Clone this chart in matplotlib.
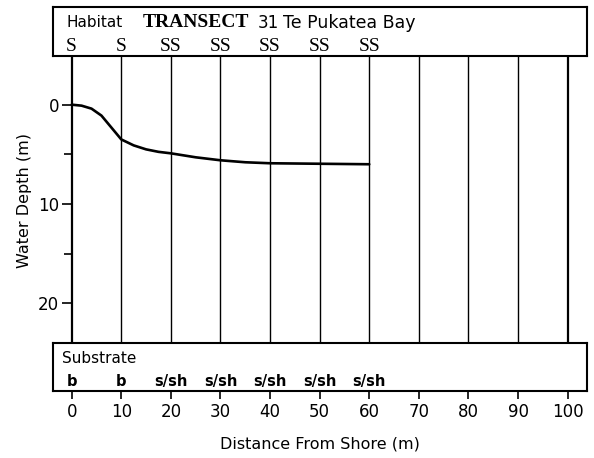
import matplotlib.pyplot as plt
from matplotlib.ticker import MultipleLocator

# transect stations (m from shore) and their habitat / substrate codes
stations = [0, 10, 20, 30, 40, 50, 60, 70, 80, 90, 100]
habitat = ["S", "S", "SS", "SS", "SS", "SS", "SS"]
substrate = ["b", "b", "s/sh", "s/sh", "s/sh", "s/sh", "s/sh"]

# depth profile along the transect
dist = [0, 2, 4, 6, 8, 10, 12.5, 15, 17.5, 20, 25, 30, 35, 40, 50, 60]
depth = [0, 0.1, 0.4, 1.1, 2.3, 3.5, 4.1, 4.5, 4.75, 4.9, 5.3, 5.6, 5.8, 5.9, 5.95, 6.0]

xmin, xmax = -3.77, 103.9
dmin, dmax = -4.9, 24.0

sans = "DejaVu Sans"
serif = "Liberation Serif"

fig = plt.figure(figsize=(5.94, 4.58), dpi=100)

# main depth panel
ax = fig.add_axes([0.0892, 0.2511, 0.899, 0.6266])
ax.set_xlim(xmin, xmax)
ax.set_ylim(dmax, dmin)
for s in ["top", "right", "bottom"]:
    ax.spines[s].set_visible(False)
ax.spines["left"].set_position(("data", 0))
ax.spines["left"].set_linewidth(1.6)
ax.set_xticks([])
ax.set_yticks([0, 10, 20])
ax.yaxis.set_minor_locator(MultipleLocator(5))
ax.tick_params(axis="y", which="major", length=7, width=1.2, pad=2, labelsize=12)
ax.tick_params(axis="y", which="minor", length=6, width=1.2)
for lab in ax.get_yticklabels():
    lab.set_family(sans)

for x in stations[1:]:
    lw = 1.6 if x == 100 else 1.0
    ax.vlines(x, dmin, dmax, color="black", lw=lw)

ax.plot(dist, depth, color="black", lw=1.9, solid_capstyle="round")

fig.text(25 / 594, 1 - 200 / 458, "Water Depth (m)", rotation=90,
         ha="center", va="center", fontsize=11.5, family=sans)

# habitat box
axt = fig.add_axes([0.0892, 0.8777, 0.899, 0.107])
axt.set_xlim(xmin, xmax)
axt.set_ylim(0, 1)
axt.set_xticks([])
axt.set_yticks([])
for s in axt.spines.values():
    s.set_linewidth(1.5)
axt.text(-1.0, 0.68, "Habitat", fontsize=11, family=sans, va="center")
axt.text(14.4, 0.68, "TRANSECT", fontsize=14, family=serif,
         weight="bold", va="center")
axt.text(37.6, 0.68, "31", fontsize=12, family=sans, va="center")
axt.text(42.6, 0.68, "Te Pukatea Bay", fontsize=12.5, family=sans,
         va="center")
for x, code in zip(stations, habitat):
    axt.text(x, 0.03, code, fontsize=14, family=serif, ha="center", va="bottom")

# substrate box
axb = fig.add_axes([0.0892, 0.1463, 0.899, 0.1048])
axb.set_xlim(xmin, xmax)
axb.set_ylim(0, 1)
axb.set_yticks([])
for s in axb.spines.values():
    s.set_linewidth(1.5)
axb.set_xticks(stations)
axb.set_xticklabels([str(x) for x in stations], family=sans)
axb.tick_params(axis="x", length=6, width=1.2, pad=3, labelsize=12)
axb.text(-2.0, 0.68, "Substrate", fontsize=11, family=sans, va="center")
for x, code in zip(stations, substrate):
    axb.text(x, 0.04, code, fontsize=10.5, family=sans, ha="center",
             va="bottom", weight="bold")
axb.set_xlabel("Distance From Shore (m)", fontsize=11.5, family=sans,
               labelpad=11)

fig.savefig("out.png", dpi=100)
